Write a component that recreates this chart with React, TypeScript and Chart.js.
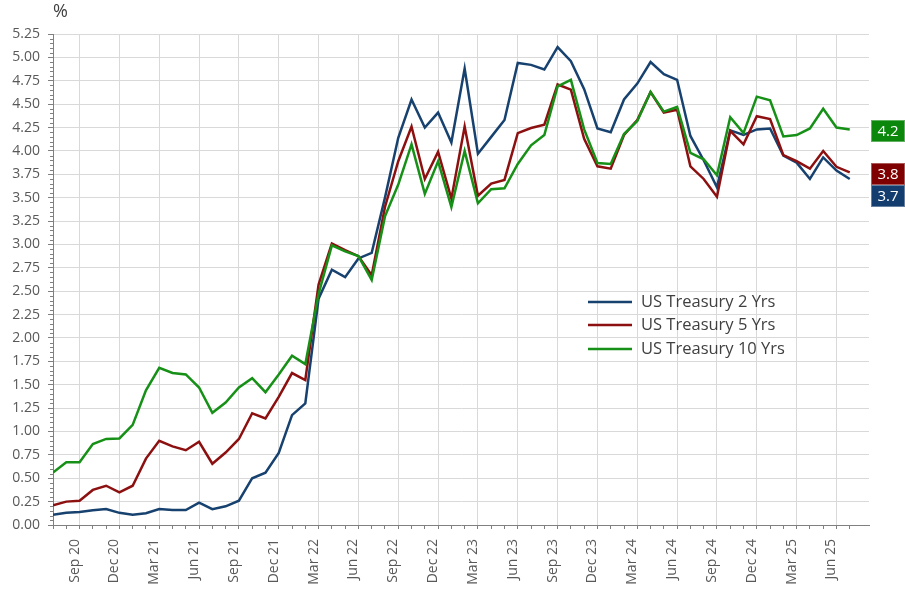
import React, { useEffect, useRef } from 'react';
import { Chart, registerables } from 'chart.js';

Chart.register(...registerables);

const months = [
  'Jul 20', 'Aug 20', 'Sep 20', 'Oct 20', 'Nov 20', 'Dec 20',
  'Jan 21', 'Feb 21', 'Mar 21', 'Apr 21', 'May 21', 'Jun 21', 'Jul 21', 'Aug 21', 'Sep 21', 'Oct 21', 'Nov 21', 'Dec 21',
  'Jan 22', 'Feb 22', 'Mar 22', 'Apr 22', 'May 22', 'Jun 22', 'Jul 22', 'Aug 22', 'Sep 22', 'Oct 22', 'Nov 22', 'Dec 22',
  'Jan 23', 'Feb 23', 'Mar 23', 'Apr 23', 'May 23', 'Jun 23', 'Jul 23', 'Aug 23', 'Sep 23', 'Oct 23', 'Nov 23', 'Dec 23',
  'Jan 24', 'Feb 24', 'Mar 24', 'Apr 24', 'May 24', 'Jun 24', 'Jul 24', 'Aug 24', 'Sep 24', 'Oct 24', 'Nov 24', 'Dec 24',
  'Jan 25', 'Feb 25', 'Mar 25', 'Apr 25', 'May 25', 'Jun 25', 'Jul 25',
];

const tickLabels = [
  'Sep 20', 'Dec 20', 'Mar 21', 'Jun 21', 'Sep 21', 'Dec 21', 'Mar 22', 'Jun 22', 'Sep 22', 'Dec 22',
  'Mar 23', 'Jun 23', 'Sep 23', 'Dec 23', 'Mar 24', 'Jun 24', 'Sep 24', 'Dec 24', 'Mar 25', 'Jun 25',
];

const ust2y = [
  0.11, 0.13, 0.14, 0.157, 0.17, 0.13,
  0.11, 0.125, 0.17, 0.16, 0.16, 0.24, 0.17, 0.2, 0.26, 0.5, 0.56, 0.77,
  1.175, 1.3, 2.42, 2.73, 2.65, 2.85, 2.91, 3.5, 4.14, 4.55, 4.25, 4.41,
  4.09, 4.88, 3.97, 4.15, 4.33, 4.94, 4.92, 4.87, 5.11, 4.96, 4.66, 4.24,
  4.2, 4.55, 4.72, 4.95, 4.82, 4.76, 4.16, 3.9, 3.61, 4.22, 4.17, 4.23,
  4.24, 3.95, 3.875, 3.7, 3.93, 3.79, 3.7,
];

const ust5y = [
  0.21, 0.25, 0.26, 0.375, 0.42, 0.35,
  0.42, 0.71, 0.9, 0.84, 0.8, 0.89, 0.655, 0.775, 0.92, 1.195, 1.14, 1.37,
  1.625, 1.55, 2.57, 3.01, 2.94, 2.875, 2.67, 3.4, 3.89, 4.26, 3.7, 3.99,
  3.49, 4.26, 3.52, 3.65, 3.69, 4.19, 4.245, 4.28, 4.71, 4.655, 4.13, 3.835,
  3.81, 4.17, 4.33, 4.63, 4.41, 4.44, 3.835, 3.7, 3.51, 4.215, 4.07, 4.37,
  4.34, 3.955, 3.89, 3.81, 4.0, 3.83, 3.77,
];

const ust10y = [
  0.56, 0.67, 0.67, 0.865, 0.92, 0.925,
  1.07, 1.44, 1.68, 1.625, 1.61, 1.47, 1.2, 1.31, 1.47, 1.57, 1.42, 1.61,
  1.81, 1.72, 2.47, 2.99, 2.925, 2.875, 2.62, 3.3, 3.64, 4.07, 3.54, 3.89,
  3.4, 4.0, 3.44, 3.59, 3.6, 3.86, 4.06, 4.17, 4.69, 4.76, 4.23, 3.87,
  3.86, 4.18, 4.32, 4.63, 4.42, 4.47, 3.98, 3.91, 3.74, 4.36, 4.19, 4.58,
  4.54, 4.155, 4.17, 4.24, 4.45, 4.25, 4.23,
];

const seriesNames = ['US Treasury 2 Yrs', 'US Treasury 5 Yrs', 'US Treasury 10 Yrs'];
const seriesColors = ['#17416E', '#8C1010', '#169016'];
const boxColors = ['#123D6E', '#7F0000', '#0B880B'];

const FONT = '"Open Sans", "Noto Sans", sans-serif';
const TEXT = '#595959';

const overlayPlugin = {
  id: 'overlay',
  afterDraw(chart: any) {
    const ctx = chart.ctx as CanvasRenderingContext2D;
    const area = chart.chartArea;
    const y = chart.scales.y;
    ctx.save();

    // minor ticks on y axis
    ctx.strokeStyle = '#808080';
    ctx.lineWidth = 1;
    for (let k = 0; k <= 105; k++) {
      if (k % 5 === 0) continue;
      const py = Math.round(y.getPixelForValue(k * 0.05)) + 0.5;
      ctx.beginPath();
      ctx.moveTo(area.left - 3, py);
      ctx.lineTo(area.left, py);
      ctx.stroke();
    }

    // unit title
    ctx.fillStyle = '#404040';
    ctx.font = `18px ${FONT}`;
    ctx.textAlign = 'left';
    ctx.textBaseline = 'middle';
    ctx.fillText('%', 53, 12);

    // legend
    const legendY = [302, 325, 349];
    ctx.font = `16.5px ${FONT}`;
    seriesNames.forEach((name, i) => {
      ctx.strokeStyle = seriesColors[i];
      ctx.lineWidth = 2.5;
      ctx.beginPath();
      ctx.moveTo(588, legendY[i]);
      ctx.lineTo(632, legendY[i]);
      ctx.stroke();
      ctx.fillStyle = '#404040';
      ctx.fillText(name, 641, legendY[i]);
    });

    // end value labels
    const series = [ust2y, ust5y, ust10y];
    const boxH = 22;
    const items = series.map((s, i) => {
      const v = s[s.length - 1];
      return { i, v, c: y.getPixelForValue(v) + 2 };
    }).sort((a, b) => a.c - b.c);
    for (let k = 1; k < items.length; k++) {
      if (items[k].c < items[k - 1].c + boxH) items[k].c = items[k - 1].c + boxH;
    }
    ctx.font = `15px ${FONT}`;
    ctx.textAlign = 'center';
    items.forEach((it) => {
      const x0 = 871;
      const w = 34;
      const top = Math.round(it.c - boxH / 2);
      ctx.fillStyle = boxColors[it.i];
      ctx.fillRect(x0, top, w, boxH);
      ctx.strokeStyle = 'rgba(255,255,255,0.35)';
      ctx.lineWidth = 1;
      ctx.strokeRect(x0 + 0.5, top + 0.5, w - 1, boxH - 1);
      ctx.fillStyle = '#ffffff';
      ctx.fillText(it.v.toFixed(1), x0 + w / 2, top + boxH / 2 + 1);
    });

    ctx.restore();
  },
};

export default function App() {
  const ref = useRef<HTMLCanvasElement | null>(null);

  useEffect(() => {
    document.body.style.margin = '0';
    if (!ref.current) return;
    const data = [ust2y, ust5y, ust10y];
    const chart = new Chart(ref.current, {
      type: 'line',
      data: {
        datasets: data.map((s, i) => ({
          label: seriesNames[i],
          data: s.map((v, k) => ({ x: k, y: v })),
          borderColor: seriesColors[i],
          backgroundColor: seriesColors[i],
          borderWidth: 2.5,
          pointRadius: 0,
          tension: 0,
          fill: false,
          order: 2 - i,
        })),
      },
      options: {
        responsive: false,
        devicePixelRatio: 1,
        animation: false,
        layout: { padding: { top: 34, right: 36, left: 0, bottom: 0 } },
        plugins: {
          legend: { display: false },
          tooltip: { enabled: false },
        },
        scales: {
          x: {
            type: 'linear',
            min: 0,
            max: 61.45,
            afterBuildTicks: (s: any) => {
              s.ticks = months.map((_, i) => ({ value: i }));
            },
            afterFit: (s: any) => {
              s.height = 64;
            },
            ticks: {
              autoSkip: false,
              maxRotation: 90,
              minRotation: 90,
              padding: 10,
              labelOffset: -5,
              color: TEXT,
              font: { family: FONT, size: 14 },
              callback: (v: any) => {
                const m = months[Math.round(Number(v))];
                return tickLabels.includes(m) ? m : '';
              },
            },
            grid: {
              color: (c: any) => {
                const m = months[Math.round(c.tick?.value ?? -1)];
                return tickLabels.includes(m) ? '#d9d9d9' : 'rgba(0,0,0,0)';
              },
              tickColor: '#808080',
              tickLength: 4,
              lineWidth: 1,
            },
            border: { color: '#808080' },
          },
          y: {
            min: 0,
            max: 5.25,
            afterFit: (s: any) => {
              s.width = 53;
            },
            ticks: {
              stepSize: 0.25,
              padding: 8,
              color: TEXT,
              font: { family: FONT, size: 14 },
              callback: (v: any) => Number(v).toFixed(2),
            },
            grid: {
              color: '#d9d9d9',
              tickColor: '#808080',
              tickLength: 5,
            },
            border: { color: '#808080' },
          },
        },
      },
      plugins: [overlayPlugin],
    });
    return () => chart.destroy();
  }, []);

  return (
    <div style={{ width: 905, height: 589 }}>
      <canvas ref={ref} width={905} height={589} style={{ display: 'block', width: 905, height: 589 }} />
    </div>
  );
}
